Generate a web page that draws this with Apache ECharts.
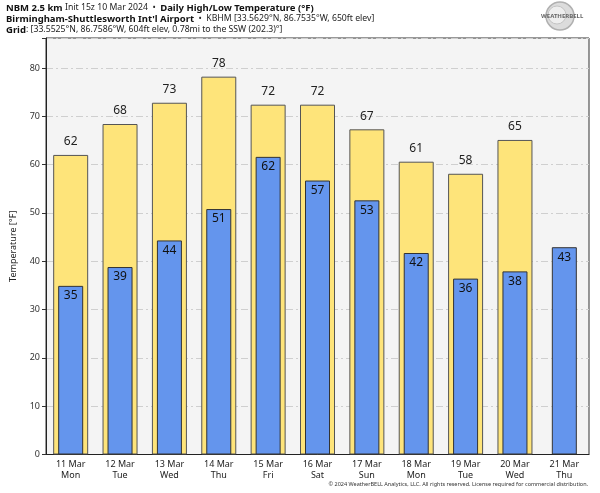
<!DOCTYPE html>
<html><head><meta charset="utf-8">
<script src="https://cdn.jsdelivr.net/npm/echarts@6/dist/echarts.min.js"></script>
<style>html,body{margin:0;padding:0;background:#fff}#c{width:600px;height:493px}</style>
</head><body><div id="c"></div>
<script>
const days = ['11 Mar','12 Mar','13 Mar','14 Mar','15 Mar','16 Mar','17 Mar','18 Mar','19 Mar','20 Mar','21 Mar'];
const weekdays = ['Mon','Tue','Wed','Thu','Fri','Sat','Sun','Mon','Tue','Wed','Thu'];
const highs = [62.0, 68.4, 72.8, 78.2, 72.4, 72.4, 67.3, 60.6, 58.1, 65.1, null];
const lows = [34.9, 38.8, 44.3, 50.8, 61.6, 56.7, 52.6, 41.7, 36.4, 37.9, 42.9];
const yTicks = [0,10,20,30,40,50,60,70,80];

const cats = days.map((d,i)=>d+'\n'+weekdays[i]);
const chart = echarts.init(document.getElementById('c'), null, {renderer:'canvas'});
const F = 'Noto Sans';
const rich = {
  b:{fontFamily:F,fontWeight:'bold',fontSize:9.5,fill:'#111',color:'#111'},
  r:{fontFamily:F,fontWeight:'normal',fontSize:8.7,fill:'#222',color:'#222'}
};
function line(y, text){
  return {type:'text',left:6,top:y,style:{text:text,rich:rich,font:'9px "Noto Sans"',fill:'#222'}};
}
chart.setOption({
  animation:false,
  backgroundColor:'#ffffff',
  textStyle:{fontFamily:F},
  graphic:[
    line(3,'{b|NBM 2.5 km} {r|Init 15z 10 Mar 2024  •  }{b|Daily High/Low Temperature (°F)}'),
    line(14,'{b|Birmingham-Shuttlesworth Int\'l Airport}{r|  •  KBHM [33.5629°N, 86.7535°W, 650ft elev]}'),
    line(25,'{b|Grid}{r|: [33.5525°N, 86.7586°W, 604ft elev, 0.78mi to the SSW (202.3)°]}'),
    {type:'text',right:12,top:481,style:{text:'© 2024 WeatherBELL Analytics, LLC. All rights reserved. License required for commercial distribution.',font:'5.5px "Noto Sans"',fill:'#333'}},
    {type:'circle',shape:{cx:560,cy:16,r:14},style:{fill:'#dcdcdc',stroke:'#b0b0b0',lineWidth:1.5}},
    {type:'circle',shape:{cx:557,cy:15,r:9},style:{fill:'#eeeeee',stroke:'#c4c4c4',lineWidth:1}},
    {type:'text',left:541,top:13,style:{text:'WEATHERBELL',fill:'#666',font:'bold 6px "Noto Sans"'}}
  ],
  grid:{left:46,right:11,top:38,bottom:38.5,show:true,backgroundColor:'#f4f4f4',borderColor:'#333',borderWidth:1},
  xAxis:[{
    type:'category',data:cats,
    axisLine:{lineStyle:{color:'#222'}},
    axisTick:{show:false},
    axisLabel:{color:'#222',fontSize:9,lineHeight:11,margin:4,fontFamily:F}
  },{
    type:'category',data:cats,show:false
  }],
  yAxis:{
    type:'value',min:0,max:86.2,interval:10,
    name:'Temperature [°F]',nameLocation:'middle',nameGap:28,
    nameTextStyle:{color:'#222',fontSize:9,fontFamily:F},
    axisLine:{show:true,lineStyle:{color:'#222'}},
    axisTick:{show:true,length:4,lineStyle:{color:'#333'}},
    axisLabel:{color:'#333',fontSize:9,margin:6,fontFamily:F,
      formatter:v=>yTicks.indexOf(v)>=0?String(v):''},
    splitLine:{show:true,lineStyle:{color:'#cfcfcf',type:[7,3,2,3],width:1}}
  },
  series:[{
    type:'bar',xAxisIndex:0,data:highs,barWidth:35,
    itemStyle:{color:'#fee47a',borderColor:'#555',borderWidth:1},
    label:{show:true,position:'top',distance:7,fontSize:12,color:'#222',fontFamily:F,
      formatter:p=>p.value==null?'':Math.round(p.value)}
  },{
    type:'bar',xAxisIndex:1,data:lows,barWidth:25,
    itemStyle:{color:'#6495ed',borderColor:'#333',borderWidth:1},
    label:{show:true,position:'insideTop',distance:4,fontSize:12,color:'#111',fontFamily:F,
      formatter:p=>Math.round(p.value)}
  }]
});
</script></body></html>
